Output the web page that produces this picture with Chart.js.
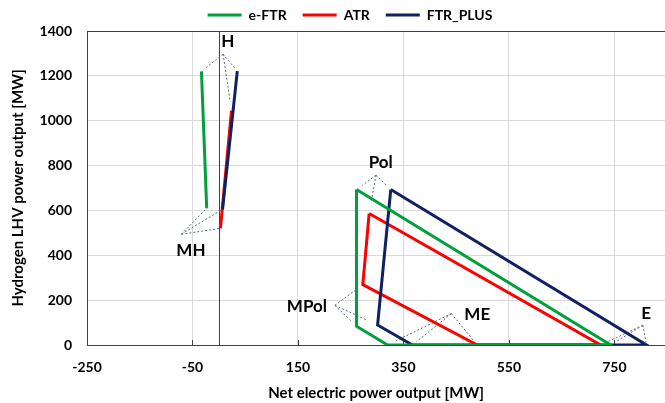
<!DOCTYPE html>
<html>
<head>
<meta charset="utf-8">
<script src="https://cdn.jsdelivr.net/npm/chart.js@4.4.0/dist/chart.umd.min.js"></script>
<style>
html,body{margin:0;padding:0;background:#fff}
</style>
</head>
<body>
<canvas id="mychart" width="665" height="403"></canvas>
<script>
// points: H, MH, (gap), Pol, MPol, ME, E, back to Pol
var eftrX = [-33, -23, null, 261, 261, 320, 743, 261];
var eftrY = [1220, 610, null, 693, 84, 0, 0, 693];
var atrX = [24, 3, null, 285, 273, 490, 724, 285];
var atrY = [1045, 520, null, 586, 269, 0, 0, 586];
var ftrX = [35, 7, null, 326, 301, 367, 811, 326];
var ftrY = [1221, 605, null, 693, 89, 0, 0, 693];

var xTicks = [-250, -50, 150, 350, 550, 750];
var yTicks = [0, 200, 400, 600, 800, 1000, 1200, 1400];

// point labels and where their callout lines start
var labelNames = ['H', 'MH', 'Pol', 'MPol', 'ME', 'E'];
var labelX = [17, -53, 307, 167, 490, 810];
var labelY = [1351, 422, 815, 172, 137, 141];
var anchorX = [8, -71, 298, 220, 441, 804];
var anchorY = [1297, 494, 757, 177, 140, 88];
var labelPoint = [0, 1, 3, 4, 5, 6];
var reach = [0.85, 1, 0.7, 0.75, 0.9, 0.85];

function pts(xs, ys) {
  return xs.map(function(x, i) { return {x: x, y: ys[i]}; });
}

var series = [[eftrX, eftrY], [atrX, atrY], [ftrX, ftrY]];

Chart.defaults.font.family = 'Lato';
Chart.defaults.color = '#000';

// let the end tick labels hang outside the plot like Excel does
function noPad(scale) {
  scale.paddingLeft = 0;
  scale.paddingRight = 0;
  scale.paddingTop = 0;
  scale.paddingBottom = 0;
  if (scale.axis === 'x') scale.height = 58;
  else scale.width = 82;
}

var extras = {
  id: 'extras',
  afterLayout: function(chart) {
    // legend sits a bit right of the canvas centre
    chart.legend.left = 35;
  },
  beforeDatasetsDraw: function(chart) {
    var ctx = chart.ctx, a = chart.chartArea, xs = chart.scales.x, ys = chart.scales.y;
    ctx.save();
    ctx.strokeStyle = '#404040';
    ctx.lineWidth = 1;
    var x0 = Math.round(xs.getPixelForValue(0)) + 0.5;
    ctx.beginPath();
    ctx.moveTo(x0, a.top); ctx.lineTo(x0, a.bottom);
    ctx.stroke();
    ctx.beginPath();
    xTicks.forEach(function(v) {
      var px = Math.round(xs.getPixelForValue(v)) + 0.5;
      ctx.moveTo(px, a.bottom); ctx.lineTo(px, a.bottom - 5);
    });
    ctx.stroke();
    ctx.strokeRect(Math.round(a.left) + 0.5, Math.round(a.top) + 0.5, a.right - a.left, a.bottom - a.top);

    // callout lines
    ctx.setLineDash([2, 2]);
    ctx.strokeStyle = '#5b6b85';
    ctx.beginPath();
    labelNames.forEach(function(n, i) {
      var ax = xs.getPixelForValue(anchorX[i]), ay = ys.getPixelForValue(anchorY[i]);
      series.forEach(function(s) {
        var k = labelPoint[i];
        var px = xs.getPixelForValue(s[0][k]), py = ys.getPixelForValue(s[1][k]);
        ctx.moveTo(ax, ay);
        ctx.lineTo(ax + (px - ax) * reach[i], ay + (py - ay) * reach[i]);
      });
    });
    ctx.stroke();
    ctx.restore();
  },
  afterDatasetsDraw: function(chart) {
    var ctx = chart.ctx, xs = chart.scales.x, ys = chart.scales.y;
    ctx.save();
    ctx.font = 'bold 17px Lato';
    ctx.fillStyle = '#000';
    ctx.textAlign = 'center';
    ctx.textBaseline = 'middle';
    labelNames.forEach(function(n, i) {
      ctx.fillText(n, xs.getPixelForValue(labelX[i]), ys.getPixelForValue(labelY[i]));
    });
    ctx.restore();
  }
};

var mychart = document.getElementById('mychart').getContext('2d');
var chart = new Chart(mychart, {
  type: 'scatter',
  data: {
    datasets: [
      {
        label: 'e-FTR',
        data: pts(eftrX, eftrY),
        borderColor: '#00a03c',
        backgroundColor: '#00a03c',
        borderWidth: 3,
        order: 0
      },
      {
        label: 'ATR',
        data: pts(atrX, atrY),
        borderColor: '#ff0000',
        backgroundColor: '#ff0000',
        borderWidth: 3,
        order: 2
      },
      {
        label: 'FTR_PLUS',
        data: pts(ftrX, ftrY),
        borderColor: '#0f2063',
        backgroundColor: '#0f2063',
        borderWidth: 3,
        order: 1
      }
    ]
  },
  options: {
    responsive: false,
    animation: false,
    showLine: true,
    spanGaps: false,
    layout: {padding: {left: 5, right: 0, top: -8, bottom: 0}},
    elements: {
      point: {radius: 0, hoverRadius: 0},
      line: {tension: 0, borderJoinStyle: 'miter'}
    },
    plugins: {
      tooltip: {enabled: false},
      legend: {
        position: 'top',
        maxHeight: 39,
        labels: {
          usePointStyle: true,
          pointStyle: 'line',
          pointStyleWidth: 34,
          padding: 16,
          font: {size: 14, weight: 'bold'},
          sort: function(a, b) { return a.datasetIndex - b.datasetIndex; }
        }
      }
    },
    scales: {
      x: {
        type: 'linear',
        min: -250,
        max: 846,
        afterBuildTicks: function(scale) {
          scale.ticks = xTicks.map(function(v) { return {value: v}; });
        },
        afterFit: noPad,
        grid: {color: '#d9d9d9', drawTicks: false},
        border: {color: '#404040'},
        ticks: {padding: 14, font: {size: 14, weight: 'bold'}, callback: function(v) { return String(v); }},
        title: {display: true, text: 'Net electric power output [MW]', font: {size: 15, weight: 'bold'}, padding: {top: 8, bottom: 1}}
      },
      y: {
        type: 'linear',
        min: 0,
        max: 1400,
        afterBuildTicks: function(scale) {
          scale.ticks = yTicks.map(function(v) { return {value: v}; });
        },
        afterFit: noPad,
        grid: {color: '#d9d9d9', drawTicks: false},
        border: {color: '#404040'},
        ticks: {padding: 15, font: {size: 14, weight: 'bold'}, callback: function(v) { return String(v); }},
        title: {display: true, text: 'Hydrogen LHV power output [MW]', font: {size: 15, weight: 'bold'}, padding: {top: 4, bottom: 11}}
      }
    }
  },
  plugins: [extras]
});
</script>
</body>
</html>
